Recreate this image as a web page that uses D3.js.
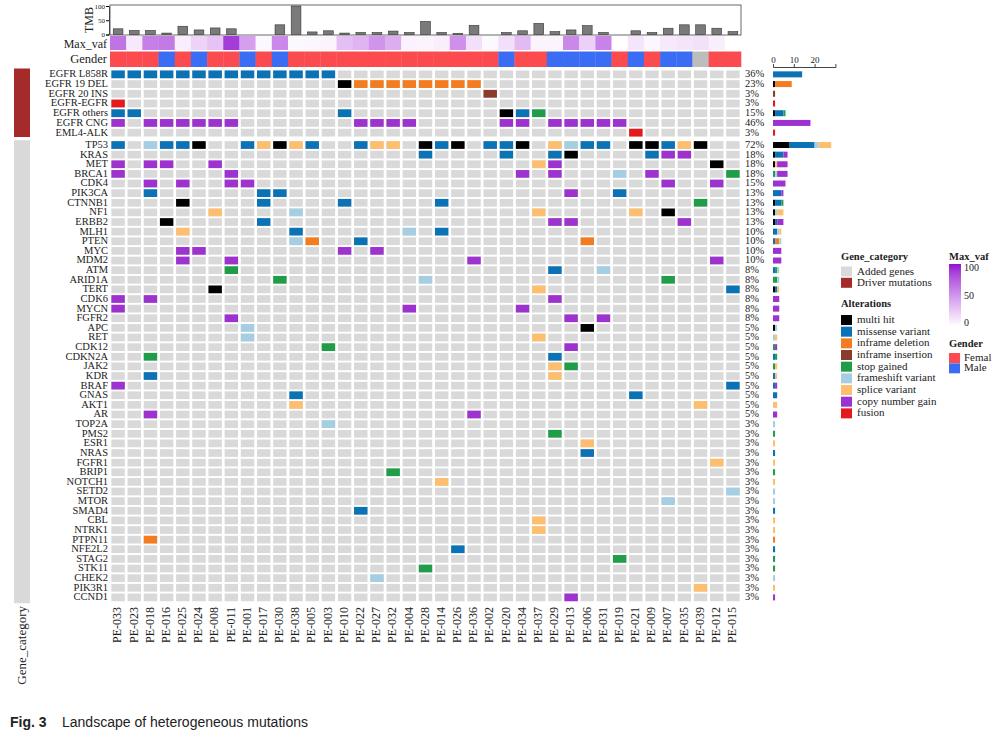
<!DOCTYPE html>
<html><head><meta charset="utf-8">
<script src="https://cdn.jsdelivr.net/npm/d3@7"></script>
<style>
body{margin:0;background:#fff}
svg{display:block}
text{font-family:"Liberation Serif","Times New Roman",serif;fill:#222}
</style>
</head><body>
<svg id="c" width="1000" height="748"></svg>
<script>
// ---------------- DATA ----------------
const samples = ["PE-033","PE-023","PE-018","PE-016","PE-025","PE-024","PE-008","PE-011","PE-001","PE-017","PE-030","PE-038","PE-005","PE-003","PE-010","PE-022","PE-027","PE-032","PE-004","PE-028","PE-014","PE-026","PE-036","PE-002","PE-020","PE-034","PE-037","PE-029","PE-013","PE-006","PE-031","PE-019","PE-021","PE-009","PE-007","PE-035","PE-039","PE-012","PE-015"];
const tmb = [20,14,14,5,29,16,23,20,0,0,34,100,9,13,5,7,7,12,7,46,7,4,32,0,7,13,39,10,16,31,7,0,13,7,22,34,34,22,10];
const maxVaf = [65,10,60,62,8,20,28,88,45,3,55,3,4,5,30,35,50,38,6,5,8,52,15,3,15,32,5,5,55,22,58,0,12,4,10,12,14,8,null];
const gender = ["F","F","F","M","F","M","F","F","M","F","M","F","F","F","F","F","F","F","F","F","F","F","F","F","M","F","F","M","M","M","M","F","M","F","M","M","NA","F","F"];

const driverGenes = ["EGFR L858R","EGFR 19 DEL","EGFR 20 INS","EGFR-EGFR","EGFR others","EGFR CNG","EML4-ALK"];
const driverAlts = [
  "0S 1S 2S 3S 4S 5S 6S 7S 8S 9S 10S 11S 12S 13S",
  "14M 15D 16D 17D 18D 19D 20D 21D 22D",
  "23I",
  "0U",
  "0S 1S 14S 24M 25S 26G",
  "0C 2C 3C 4C 5C 6C 7C 15C 16C 17C 18C 24C 25C 27C 28C 29C 30C 31C",
  "32U"
];
const addedGenes = ["TP53","KRAS","MET","BRCA1","CDK4","PIK3CA","CTNNB1","NF1","ERBB2","MLH1","PTEN","MYC","MDM2","ATM","ARID1A","TERT","CDK6","MYCN","FGFR2","APC","RET","CDK12","CDKN2A","JAK2","KDR","BRAF","GNAS","AKT1","AR","TOP2A","PMS2","ESR1","NRAS","FGFR1","BRIP1","NOTCH1","SETD2","MTOR","SMAD4","CBL","NTRK1","PTPN11","NFE2L2","STAG2","STK11","CHEK2","PIK3R1","CCND1"];
const addedAlts = [
  "0S 2F 3S 4S 5M 8S 9P 10M 11P 12S 15S 16P 17P 19M 20S 21M 23S 24S 25M 27P 28F 29S 30S 32M 33M 34S 35P 36M",
  "19S 24S 27S 28M 33S 34C 35C",
  "0C 2C 3C 6C 26P 27C 37M",
  "0C 7C 25C 27C 31F 33C 38G",
  "2C 4C 7C 8C 34C 37C",
  "2S 9S 10S 28C 31S",
  "4M 9S 14S 20S 36G",
  "6P 11F 26P 32P 34M",
  "3M 9S 27C 28C 35C",
  "4P 11S 18F 20S",
  "11F 12D 15S 29D",
  "4C 5C 14C 16C",
  "4C 7C 22C 37C",
  "7G 27S 30F",
  "10G 19F 34G",
  "6M 26P 38S",
  "0C 2C 27C",
  "0C 18C 25C",
  "7C 28C 30C",
  "8F 29M",
  "8F 26P",
  "13G 28C",
  "2G 27S",
  "27P 28G",
  "2S 27P",
  "0C 38S",
  "11S 32S",
  "11P 36P",
  "2C 22C",
  "13F",
  "27G",
  "29P",
  "29S",
  "37P",
  "17G",
  "20P",
  "38F",
  "34F",
  "15S",
  "26P",
  "26P",
  "2D",
  "21S",
  "31G",
  "19G",
  "16F",
  "36P",
  "28C"
];

const altCodes  = ["M","S","D","I","G","F","P","C","U"];
const altNames  = ["multi hit","missense variant","inframe deletion","inframe insertion","stop gained","frameshift variant","splice variant","copy number gain","fusion"];
const altColors = ["#000000","#0b72b5","#f47c20","#8b3a2e","#1f9d48","#a6cee3","#fdbf6f","#9e32cf","#e41a1c"];

const categoryNames  = ["Added genes","Driver mutations"];
const categoryColors = ["#d9d9d9","#a52a2a"];
const genderNames  = ["Femal","Male"];
const genderKeys   = ["F","M","NA"];
const genderColors = ["#fb4b4f","#3b6cf4","#bdbdbd"];
const tmbTicks = [0,50,100];
const vafTicks = [0,50,100];
const barTicks = [0,10,20];

// ---------------- SETUP ----------------
const svg = d3.select("#c");
const nS = samples.length;
const parse = s => s.split(" ").map(t => ({col:+t.slice(0,-1), code:t.slice(-1)}));
const driverRows = driverGenes.map((g,i)=>({gene:g, alts:parse(driverAlts[i])}));
const addedRows  = addedGenes.map((g,i)=>({gene:g, alts:parse(addedAlts[i])}));

const x = d3.scaleBand().domain(samples).range([110,741]).paddingInner(0.17).paddingOuter(0.085);
const xFull = d3.scaleBand().domain(samples).range([110,741]).padding(0);
const xBar = d3.scaleBand().domain(samples).range([110,741]).paddingInner(0.4).paddingOuter(0.2);
const yD = d3.scaleBand().domain(driverGenes).range([69.5,137.5]).paddingInner(0.2).paddingOuter(0.1);
const yG = d3.scaleBand().domain(addedGenes).range([140.2,602.2]).paddingInner(0.2).paddingOuter(0.1);
const altColor = d3.scaleOrdinal().domain(altCodes).range(altColors);
const gColor = d3.scaleOrdinal().domain(genderKeys).range(genderColors);
const vafColor = d3.scaleLinear().domain([0,100]).range(["#ffffff","#9410d2"]).interpolate(d3.interpolateLab);

// ---------------- TMB ----------------
const yT = d3.scaleLinear().domain([0,100]).range([34.5,6]);
svg.append("rect").attr("x",110).attr("y",5).attr("width",631).attr("height",30)
  .attr("fill","none").attr("stroke","#444").attr("stroke-width",0.8);
svg.append("g").selectAll("rect").data(tmb).join("rect")
  .attr("x",(d,i)=>xBar(samples[i])).attr("width",xBar.bandwidth())
  .attr("y",d=>yT(d)).attr("height",d=>yT(0)-yT(d))
  .attr("fill","#7a7a7a").attr("stroke","#333").attr("stroke-width",0.6)
  .attr("display",d=>d>0?null:"none");
const axT = svg.append("g").attr("transform","translate(109,0)")
  .call(d3.axisLeft(yT).tickValues(tmbTicks).tickSize(3).tickPadding(1));
axT.select(".domain").attr("stroke","#444");
axT.selectAll("text").style("font-size","7px").style("font-family",'"Liberation Serif",serif').attr("fill","#222");
svg.append("text").attr("transform","translate(90,20) rotate(-90)")
  .attr("text-anchor","middle").attr("dominant-baseline","middle")
  .style("font-size","12px").text("TMB");

// ---------------- Max_vaf & Gender ----------------
svg.append("g").selectAll("rect").data(maxVaf).join("rect")
  .attr("x",(d,i)=>xFull(samples[i])).attr("width",xFull.bandwidth()+0.3)
  .attr("y",36).attr("height",14)
  .attr("fill",d=>d==null?"#ffffff":vafColor(d));
svg.append("g").selectAll("rect").data(gender).join("rect")
  .attr("x",(d,i)=>xFull(samples[i])).attr("width",xFull.bandwidth()+0.3)
  .attr("y",51.5).attr("height",15.5)
  .attr("fill",d=>gColor(d));
svg.append("text").attr("x",107).attr("y",45.5).attr("text-anchor","end").attr("dominant-baseline","middle")
  .style("font-size","12px").text("Max_vaf");
svg.append("text").attr("x",107).attr("y",60).attr("text-anchor","end").attr("dominant-baseline","middle")
  .style("font-size","12.5px").text("Gender");

// ---------------- Oncoprint ----------------
function drawBlock(rows, y){
  const g = svg.append("g");
  rows.forEach(r=>{
    g.append("g").selectAll("rect").data(samples).join("rect")
      .attr("x",s=>x(s)).attr("y",y(r.gene)).attr("width",x.bandwidth()).attr("height",y.bandwidth())
      .attr("fill","#d9d9d9");
    g.append("g").selectAll("rect").data(r.alts).join("rect")
      .attr("x",a=>x(samples[a.col])).attr("y",y(r.gene)).attr("width",x.bandwidth()).attr("height",y.bandwidth())
      .attr("fill",a=>altColor(a.code));
  });
  g.append("g").selectAll("text").data(rows).join("text")
    .attr("x",108).attr("y",r=>y(r.gene)+y.bandwidth()/2+0.5)
    .attr("text-anchor","end").attr("dominant-baseline","middle")
    .style("font-size","10.5px").text(r=>r.gene);
  g.append("g").selectAll("text").data(rows).join("text")
    .attr("x",745).attr("y",r=>y(r.gene)+y.bandwidth()/2+0.5)
    .attr("dominant-baseline","middle")
    .style("font-size","10.5px").text(r=>Math.round(100*r.alts.length/nS)+"%");
}
drawBlock(driverRows, yD);
drawBlock(addedRows, yG);

// ---------------- Gene category bar ----------------
svg.append("rect").attr("x",14).attr("width",16).attr("y",yD.range()[0]-1).attr("height",yD.range()[1]-yD.range()[0]+0.5)
  .attr("fill",categoryColors[1]);
svg.append("rect").attr("x",14).attr("width",16).attr("y",yG.range()[0]).attr("height",yG.range()[1]-yG.range()[0]+1)
  .attr("fill",categoryColors[0]);
svg.append("text").attr("transform","translate(23,606) rotate(-90)")
  .attr("text-anchor","end").attr("dominant-baseline","middle")
  .style("font-size","13px").text("Gene_category");

// ---------------- Sample labels ----------------
svg.append("g").selectAll("text").data(samples).join("text")
  .attr("transform",s=>`translate(${x(s)+x.bandwidth()/2+0.5},607) rotate(-90)`)
  .attr("text-anchor","end").attr("dominant-baseline","middle")
  .style("font-size","12px").text(s=>s);

// ---------------- Right stacked bars ----------------
const xb = d3.scaleLinear().domain([0,30]).range([773,835.4]);
const axB = svg.append("g").attr("transform","translate(0,67)")
  .call(d3.axisTop(xb).tickValues(barTicks).tickSize(3).tickPadding(1));
axB.select(".domain").attr("stroke","#444");
axB.selectAll("line").attr("stroke","#444");
axB.selectAll("text").style("font-size","9px").style("font-family",'"Liberation Serif",serif').attr("fill","#222");
function drawBars(rows, y){
  rows.forEach(r=>{
    let acc = 0;
    const segs = [];
    altCodes.forEach(c=>{
      const n = r.alts.filter(a=>a.code===c).length;
      if(n>0){ segs.push({c, x0:acc, x1:acc+n}); acc+=n; }
    });
    svg.append("g").selectAll("rect").data(segs).join("rect")
      .attr("x",d=>xb(d.x0)).attr("width",d=>xb(d.x1)-xb(d.x0))
      .attr("y",y(r.gene)+y.bandwidth()/2-3).attr("height",6)
      .attr("fill",d=>altColor(d.c));
  });
}
drawBars(driverRows, yD);
drawBars(addedRows, yG);

// ---------------- Legends ----------------
const L = svg.append("g");
L.append("text").attr("x",841).attr("y",259.5).style("font-size","10.5px").style("font-weight","bold").text("Gene_category");
categoryNames.forEach((n,i)=>{
  L.append("rect").attr("x",841).attr("y",266.5+i*11.3).attr("width",11).attr("height",10).attr("fill",categoryColors[i]);
  L.append("text").attr("x",857).attr("y",272+i*11.3).attr("dominant-baseline","middle").style("font-size","11px").text(n);
});
L.append("text").attr("x",841).attr("y",307).style("font-size","10.5px").style("font-weight","bold").text("Alterations");
altNames.forEach((n,i)=>{
  L.append("rect").attr("x",841).attr("y",315+i*11.67).attr("width",11).attr("height",10).attr("fill",altColors[i]);
  L.append("text").attr("x",857).attr("y",320.5+i*11.67).attr("dominant-baseline","middle").style("font-size","11px").text(n);
});
const defs = svg.append("defs");
const grad = defs.append("linearGradient").attr("id","vg").attr("x1",0).attr("y1",1).attr("x2",0).attr("y2",0);
d3.range(0,101,10).forEach(v=>grad.append("stop").attr("offset",v+"%").attr("stop-color",vafColor(v)));
L.append("text").attr("x",949).attr("y",259.5).style("font-size","10.5px").style("font-weight","bold").text("Max_vaf");
const yV = d3.scaleLinear().domain([0,100]).range([324,269]);
L.append("rect").attr("x",949).attr("y",264).attr("width",12).attr("height",62).attr("fill","url(#vg)");
vafTicks.forEach(v=>{
  L.append("text").attr("x",964).attr("y",yV(v)).attr("dominant-baseline","middle").style("font-size","10px").text(v);
});
L.append("text").attr("x",949).attr("y",347).style("font-size","10.5px").style("font-weight","bold").text("Gender");
genderNames.forEach((n,i)=>{
  L.append("rect").attr("x",949).attr("y",353+i*10.3).attr("width",11).attr("height",10).attr("fill",genderColors[i]);
  L.append("text").attr("x",964).attr("y",358.5+i*10.3).attr("dominant-baseline","middle").style("font-size","11px").text(n);
});

// ---------------- Caption ----------------
const cap = svg.append("text").attr("x",10).attr("y",727).style("font-family",'"Liberation Sans",Arial,sans-serif').style("font-size","14px");
cap.append("tspan").style("font-weight","bold").style("font-family",'"Liberation Sans",Arial,sans-serif').text("Fig. 3");
cap.append("tspan").attr("x",62).style("font-family",'"Liberation Sans",Arial,sans-serif').text("Landscape of heterogeneous mutations");
</script>
</body></html>
